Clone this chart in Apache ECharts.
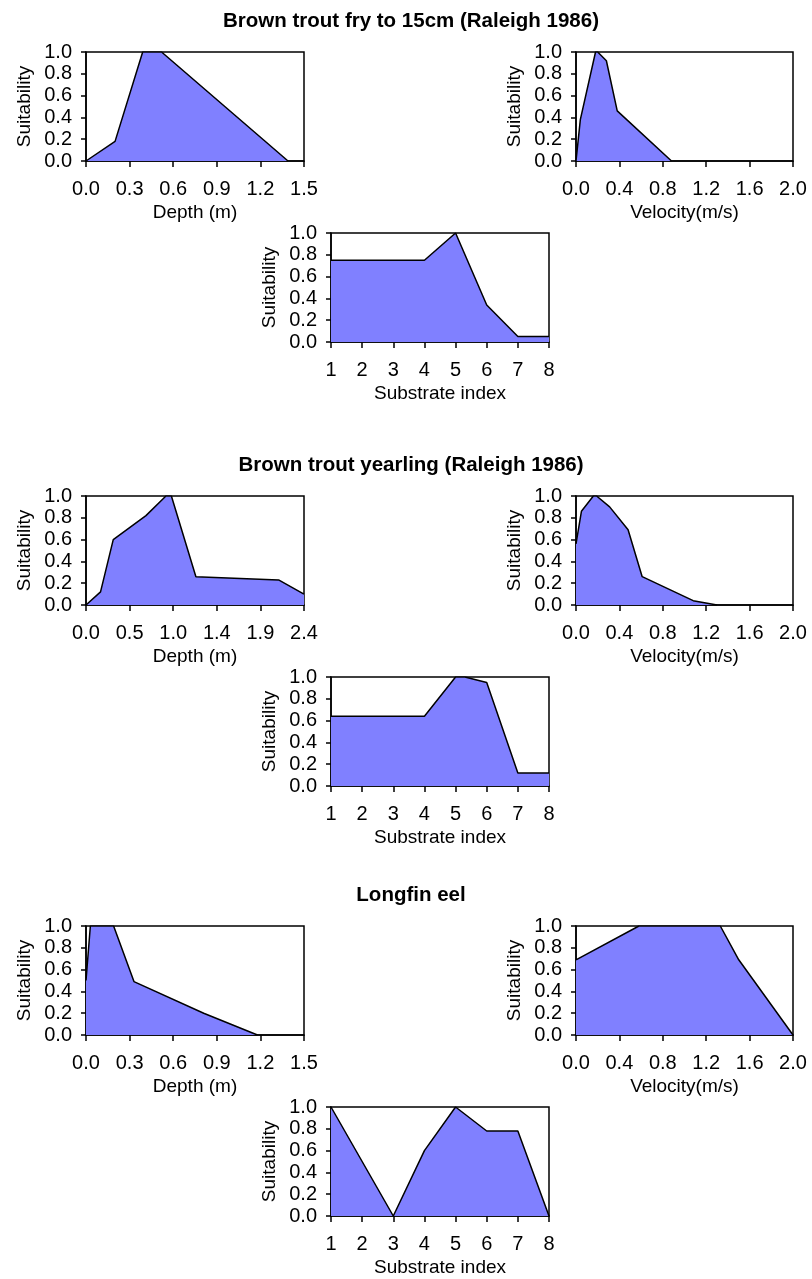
<!DOCTYPE html>
<html>
<head>
<meta charset="utf-8">
<script src="https://cdn.jsdelivr.net/npm/echarts@6/dist/echarts.min.js"></script>
<style>
  html, body { margin: 0; padding: 0; background: #fff; }
  #chart { width: 812px; height: 1279px; }
</style>
</head>
<body>
<div id="chart"></div>
<script>
// titles of the three panels
var groupTitles = ["Brown trout fry to 15cm (Raleigh 1986)", "Brown trout yearling (Raleigh 1986)", "Longfin eel"];

// [value, suitability] pairs
var fryDepth = [[0, 0], [0.2, 0.18], [0.39, 1.0], [0.52, 1.0], [1.39, 0]];
var fryVelocity = [[0, 0], [0.04, 0.38], [0.18, 1.0], [0.2, 1.0], [0.28, 0.92], [0.38, 0.46], [0.88, 0]];
var frySubstrate = [[1, 0.75], [2, 0.75], [3, 0.75], [4, 0.75], [5, 1.0], [6, 0.34], [7, 0.05], [8, 0.05]];

var yearDepth = [[0, 0], [0.16, 0.12], [0.3, 0.6], [0.66, 0.82], [0.88, 1.0], [0.94, 1.0], [1.21, 0.26], [2.12, 0.23], [2.4, 0.1]];
var yearVelocity = [[0, 0.56], [0.01, 0.56], [0.05, 0.86], [0.16, 1.0], [0.19, 1.0], [0.31, 0.9], [0.48, 0.69], [0.61, 0.26], [1.08, 0.04], [1.3, 0]];
var yearSubstrate = [[1, 0.64], [2, 0.64], [3, 0.64], [4, 0.64], [5, 1.0], [5.3, 1.0], [6, 0.95], [7, 0.12], [8, 0.12]];

var eelDepth = [[0, 0.5], [0.03, 1.0], [0.19, 1.0], [0.33, 0.49], [0.81, 0.2], [1.18, 0]];
var eelVelocity = [[0, 0.69], [0.58, 1.0], [1.33, 1.0], [1.5, 0.69], [2.0, 0]];
var eelSubstrate = [[1, 1.0], [2, 0.5], [3, 0], [4, 0.6], [5, 1.0], [6, 0.78], [7, 0.78], [8, 0]];

// x axis ranges: [min, max, interval]
var depthRanges = [[0, 1.5, 0.3], [0, 2.4, 0.48], [0, 1.5, 0.3]];
var velocityRange = [0, 2.0, 0.4];
var substrateRange = [1, 8, 1];

var groupData = [
    [fryDepth, fryVelocity, frySubstrate],
    [yearDepth, yearVelocity, yearSubstrate],
    [eelDepth, eelVelocity, eelSubstrate]
];

var groupTop = [52, 496, 926];
var subTop = [233, 677, 1107];

var fontName = "Liberation Sans, Arial, sans-serif";
var chart = echarts.init(document.getElementById("chart"));

var grids = [], xAxes = [], yAxes = [], series = [], titles = [];

function addPlot(left, top, width, height, range, xName, decimals, data) {
    var idx = grids.length;
    grids.push({
        left: left, top: top, width: width, height: height,
        show: true, borderColor: "#000", borderWidth: 1.5, backgroundColor: "#fff"
    });
    xAxes.push({
        type: "value", gridIndex: idx,
        min: range[0], max: range[1], interval: range[2],
        name: xName, nameLocation: "middle", nameGap: 42,
        nameTextStyle: { color: "#000", fontFamily: fontName, fontSize: 19 },
        axisLine: { lineStyle: { color: "#000", width: 1.5 } },
        axisTick: { show: true, inside: false, length: 6, lineStyle: { color: "#000", width: 1.5 } },
        axisLabel: {
            color: "#000", fontFamily: fontName, fontSize: 20, margin: 18,
            formatter: function (v) { return v.toFixed(decimals); }
        },
        splitLine: { show: false }
    });
    yAxes.push({
        type: "value", gridIndex: idx,
        min: 0, max: 1, interval: 0.2,
        name: "Suitability", nameLocation: "middle", nameGap: 52,
        nameTextStyle: { color: "#000", fontFamily: fontName, fontSize: 19 },
        axisLine: { show: true, lineStyle: { color: "#000", width: 1.5 } },
        axisTick: { show: true, inside: false, length: 5, lineStyle: { color: "#000", width: 1.5 } },
        axisLabel: {
            color: "#000", fontFamily: fontName, fontSize: 20, margin: 14,
            formatter: function (v) { return v.toFixed(1); }
        },
        splitLine: { show: false }
    });
    series.push({
        type: "line", xAxisIndex: idx, yAxisIndex: idx,
        data: data, symbol: "none", silent: true, animation: false,
        lineStyle: { color: "#000", width: 1.5 },
        areaStyle: { color: "#8080ff", opacity: 1 }
    });
}

for (var g = 0; g < 3; g++) {
    titles.push({
        text: groupTitles[g], left: 406, top: groupTop[g] - 46, textAlign: "center",
        textStyle: { color: "#000", fontFamily: fontName, fontSize: 20.5, fontWeight: "bold" }
    });
    addPlot(86, groupTop[g], 218, 109, depthRanges[g], "Depth (m)", 1, groupData[g][0]);
    addPlot(576, groupTop[g], 217, 109, velocityRange, "Velocity(m/s)", 1, groupData[g][1]);
    addPlot(331, subTop[g], 218, 109, substrateRange, "Substrate index", 0, groupData[g][2]);
}

chart.setOption({
    animation: false,
    backgroundColor: "#fff",
    title: titles,
    grid: grids,
    xAxis: xAxes,
    yAxis: yAxes,
    series: series
});
</script>
</body>
</html>
